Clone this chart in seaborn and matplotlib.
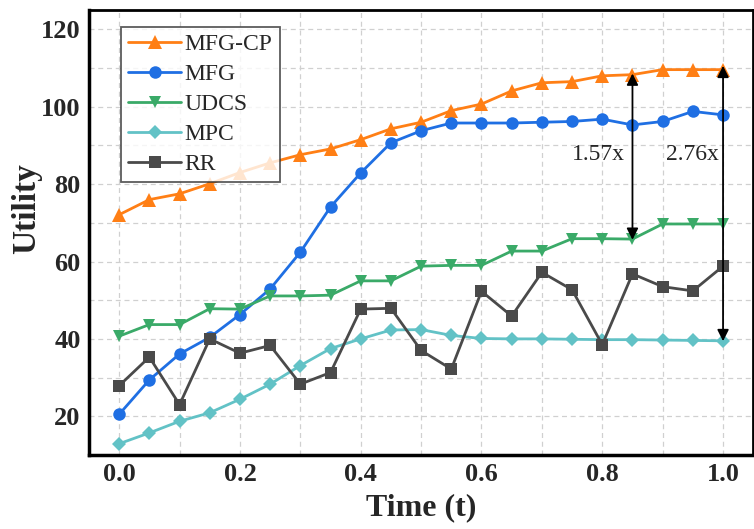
import matplotlib
matplotlib.use("Agg")
import matplotlib.pyplot as plt
import seaborn as sns
import numpy as np
from matplotlib.ticker import MultipleLocator

time = [0.0, 0.05, 0.1, 0.15, 0.2, 0.25, 0.3, 0.35, 0.4, 0.45, 0.5,
        0.55, 0.6, 0.65, 0.7, 0.75, 0.8, 0.85, 0.9, 0.95, 1.0]
mfg_cp = [72.1, 76.0, 77.5, 80.1, 83.0, 85.5, 87.6, 89.1, 91.5, 94.3, 96.0,
          99.0, 100.7, 104.1, 106.2, 106.5, 108.0, 108.3, 109.6, 109.6, 109.6]
mfg = [20.5, 29.4, 36.1, 40.4, 46.3, 52.9, 62.4, 74.1, 82.9, 90.7, 93.8,
       95.8, 95.8, 95.8, 96.0, 96.2, 96.8, 95.3, 96.2, 98.8, 97.9]
udcs = [40.7, 43.7, 43.7, 47.8, 47.7, 51.1, 51.1, 51.3, 55.0, 55.0, 58.8,
        59.0, 59.0, 62.7, 62.7, 65.9, 65.9, 65.8, 69.7, 69.7, 69.7]
mpc = [12.9, 15.7, 18.7, 20.9, 24.4, 28.3, 33.1, 37.5, 40.0, 42.3, 42.4,
       40.9, 40.1, 40.0, 40.0, 39.9, 39.8, 39.8, 39.7, 39.6, 39.5]
rr = [27.9, 35.3, 23.0, 40.0, 36.3, 38.3, 28.3, 31.3, 47.7, 47.9, 37.0,
      32.2, 52.3, 45.9, 57.2, 52.7, 38.5, 56.8, 53.5, 52.4, 58.8]

series = ["MFG-CP", "MFG", "UDCS", "MPC", "RR"]
values = [mfg_cp, mfg, udcs, mpc, rr]
colors = ["#FF7F15", "#1F6FE3", "#3AAA68", "#62C2C6", "#4A4A4A"]
markers = ["^", "o", "v", "D", "s"]
msizes = [9.5, 9, 9, 7.5, 8.5]

sns.set_style("white")
plt.rcParams["font.family"] = ["Liberation Serif", "DejaVu Serif"]

fig = plt.figure(figsize=(7.54, 5.29), dpi=100)
ax = fig.add_axes([0.118, 0.140, 0.881, 0.841])

for name, vals, c, m, ms in zip(series, values, colors, markers, msizes):
    sns.lineplot(x=time, y=vals, ax=ax, color=c, marker=m, markersize=ms,
                 linewidth=2, markeredgewidth=0, label=name)

ax.set_xlim(-0.05, 1.05)
ax.set_ylim(10, 125)
ax.xaxis.set_minor_locator(MultipleLocator(0.1))
ax.yaxis.set_minor_locator(MultipleLocator(10))
ax.set_xticks([0.0, 0.2, 0.4, 0.6, 0.8, 1.0])
ax.set_xticklabels(["0.0", "0.2", "0.4", "0.6", "0.8", "1.0"])
ax.set_yticks([20, 40, 60, 80, 100, 120])
ax.grid(True, which="both", linestyle=(0, (4, 3)), color="#d0d0d0", linewidth=0.9)
ax.set_axisbelow(True)
ax.tick_params(axis="both", which="major", direction="in", length=7, width=2.5,
               labelsize=19, pad=6)
ax.tick_params(axis="both", which="minor", direction="in", length=4, width=2)
for lab in ax.get_xticklabels() + ax.get_yticklabels():
    lab.set_fontweight("bold")
for side, sp in ax.spines.items():
    sp.set_linewidth(2.5 if side in ("left", "bottom") else 2)
    sp.set_color("black")

ax.set_xlabel("Time (t)", fontsize=23, fontweight="bold")
ax.set_ylabel("Utility", fontsize=24, fontweight="bold")
ax.yaxis.set_label_coords(-0.071, 0.553)
ax.xaxis.set_label_coords(0.5, -0.085)

arrow = dict(arrowstyle="<|-|>", color="black", lw=1.3, mutation_scale=17,
             shrinkA=0, shrinkB=0)
ax.annotate("", xy=(0.85, 108.6), xytext=(0.85, 65.6), arrowprops=arrow)
ax.annotate("", xy=(1.0, 110.6), xytext=(1.0, 39.4), arrowprops=arrow)
ax.text(0.794, 87.6, "1.57x", fontsize=17, ha="center", va="center")
ax.text(0.949, 87.6, "2.76x", fontsize=17, ha="center", va="center")

leg = ax.legend(loc="upper left", bbox_to_anchor=(0.048, 0.963), fontsize=17,
                frameon=True, fancybox=False, edgecolor="#333333",
                handlelength=2.25, labelspacing=0.36, borderpad=0.3,
                handletextpad=0.15, borderaxespad=0)
leg.get_frame().set_linewidth(1.3)

fig.savefig("out.png", dpi=100)
